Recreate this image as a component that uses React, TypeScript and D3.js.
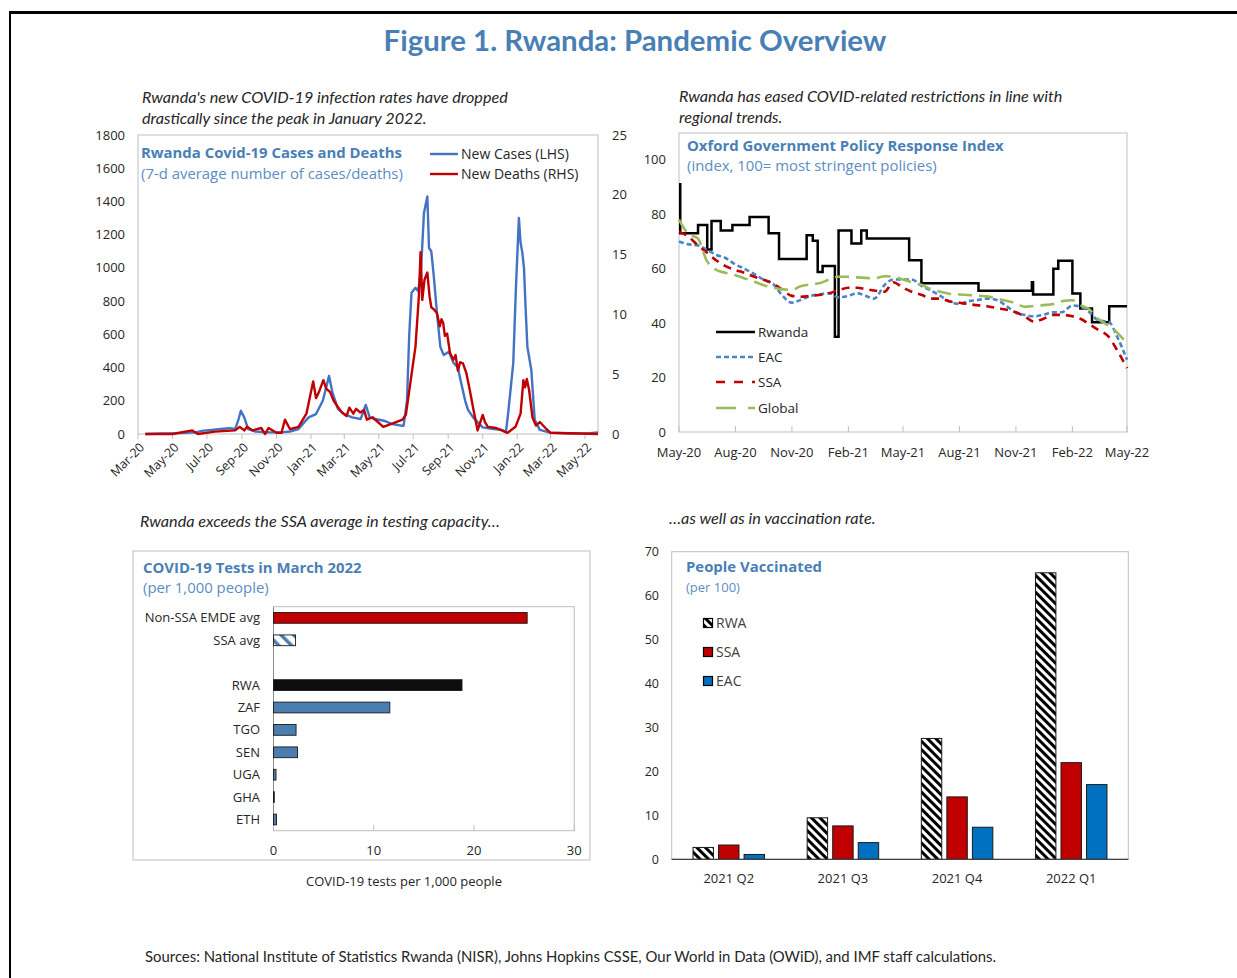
import React, { useRef, useEffect } from "react";
import * as d3 from "d3";

const W = 1237;
const H = 978;

const BLUE_TITLE = "#4a7fb5";
const BLUE_SUB = "#5b8ec4";
const TEXT = "#262626";
const AXIS_GRAY = "#bfbfbf";
const SANS = "'Open Sans', sans-serif";
const NARROW = "Lato, sans-serif";

// ---- panel 1: cases & deaths (7-d average)
const caseDates = [
  "2020-03-14", "2020-04-15", "2020-05-15", "2020-06-10", "2020-06-25", "2020-07-10",
  "2020-07-25", "2020-08-10", "2020-08-20", "2020-08-26", "2020-08-30", "2020-09-05",
  "2020-09-12", "2020-09-25", "2020-10-15", "2020-11-10", "2020-11-25", "2020-12-10",
  "2020-12-20", "2020-12-28", "2021-01-10", "2021-01-22", "2021-01-28", "2021-02-02",
  "2021-02-08", "2021-02-18", "2021-03-01", "2021-03-15", "2021-03-30", "2021-04-08",
  "2021-04-15", "2021-04-25", "2021-05-10", "2021-05-25", "2021-06-10", "2021-06-14",
  "2021-06-20", "2021-06-24", "2021-06-28", "2021-07-05", "2021-07-10", "2021-07-15",
  "2021-07-20", "2021-07-26", "2021-07-29", "2021-08-02", "2021-08-07", "2021-08-12",
  "2021-08-18", "2021-08-24", "2021-09-02", "2021-09-10", "2021-09-18", "2021-09-23",
  "2021-10-01", "2021-10-06", "2021-10-15", "2021-11-01", "2021-11-20", "2021-12-05",
  "2021-12-12", "2021-12-16", "2021-12-25", "2021-12-30", "2022-01-04", "2022-01-07",
  "2022-01-10", "2022-01-13", "2022-01-16", "2022-01-19", "2022-01-26", "2022-02-01",
  "2022-02-10", "2022-02-28", "2022-04-01", "2022-05-10", "2022-05-24",
];
const caseValues = [
  0, 3, 5, 10, 20, 25,
  30, 35, 30, 90, 140, 100,
  30, 15, 10, 10, 15, 30,
  70, 100, 120, 200, 280, 350,
  250, 150, 120, 100, 90, 175,
  100, 90, 80, 60, 50, 50,
  200, 600, 850, 880, 860, 1000,
  1330, 1430, 1120, 1100, 930, 730,
  525, 475, 495, 430, 400, 320,
  200, 145, 100, 40, 30, 25,
  10, 125, 425, 900, 1300, 1150,
  1095, 1000, 750, 525, 385, 85,
  25, 8, 3, 5, 10,
];

const deathDates = [
  "2020-03-14", "2020-05-01", "2020-06-05", "2020-06-15", "2020-07-15", "2020-08-20",
  "2020-08-28", "2020-09-05", "2020-09-10", "2020-09-20", "2020-10-05", "2020-10-12",
  "2020-10-18", "2020-11-01", "2020-11-10", "2020-11-16", "2020-11-25", "2020-12-10",
  "2020-12-24", "2021-01-05", "2021-01-10", "2021-01-16", "2021-01-23", "2021-01-28",
  "2021-02-04", "2021-02-10", "2021-02-17", "2021-02-25", "2021-03-05", "2021-03-10",
  "2021-03-17", "2021-03-22", "2021-03-29", "2021-04-05", "2021-04-10", "2021-04-20",
  "2021-05-09", "2021-05-27", "2021-06-12", "2021-06-18", "2021-06-29", "2021-07-05",
  "2021-07-11", "2021-07-14", "2021-07-17", "2021-07-21", "2021-07-26", "2021-07-30",
  "2021-08-02", "2021-08-07", "2021-08-12", "2021-08-17", "2021-08-20", "2021-08-23",
  "2021-08-26", "2021-08-30", "2021-09-04", "2021-09-10", "2021-09-14", "2021-09-18",
  "2021-09-22", "2021-09-27", "2021-10-03", "2021-10-09", "2021-10-17", "2021-10-23",
  "2021-11-01", "2021-11-05", "2021-11-10", "2021-11-25", "2021-12-15", "2021-12-29",
  "2022-01-07", "2022-01-12", "2022-01-15", "2022-01-18", "2022-01-22", "2022-01-28",
  "2022-02-03", "2022-02-10", "2022-02-20", "2022-03-01", "2022-05-24",
];
const deathValues = [
  0, 0, 0.3, 0, 0.2, 0.3,
  0.6, 0.3, 0.6, 0.3, 0.5, 0,
  0.5, 0.1, 0.1, 1.2, 0.4, 0.6,
  1.7, 4.4, 3.0, 3.6, 4.5, 3.8,
  3.5, 2.8, 2.3, 1.8, 1.5, 2.2,
  1.7, 2.1, 1.8, 2.0, 1.2, 1.4,
  0.6, 0.9, 1.2, 1.6, 5.3, 7.3,
  11.5, 15.2, 11.2, 12.9, 13.5, 11.5,
  10.6, 10.4, 10.1, 9.0, 9.6, 9.3,
  8.2, 8.4, 6.8, 6.2, 6.6, 5.3,
  6.0, 5.9, 5.1, 3.7, 1.7, 0.3,
  1.6, 1.0, 0.6, 0.5, 0.1, 0.6,
  1.7, 4.5, 3.9, 4.6, 3.7, 1.4,
  0.7, 1.0, 0.5, 0.1, 0,
];

const caseTicks = [
  "2020-03-01", "2020-05-01", "2020-07-01", "2020-09-01", "2020-11-01", "2021-01-01",
  "2021-03-01", "2021-05-01", "2021-07-01", "2021-09-01", "2021-11-01", "2022-01-01",
  "2022-03-01", "2022-05-01",
];

// ---- panel 2: stringency index
const rwandaDates = [
  "2020-05-01", "2020-05-03", "2020-06-01", "2020-06-16", "2020-06-23", "2020-07-08",
  "2020-07-27", "2020-08-24", "2020-09-24", "2020-10-11", "2020-11-25", "2020-12-05",
  "2020-12-13", "2020-12-21", "2021-01-10", "2021-01-16", "2021-02-06", "2021-02-22",
  "2021-03-03", "2021-05-11", "2021-05-31", "2021-09-01", "2021-11-27", "2021-11-29",
  "2022-01-01", "2022-01-09", "2022-02-01", "2022-02-14", "2022-03-05", "2022-04-02",
  "2022-05-01",
];
const rwandaIndex = [
  91, 73, 76, 67, 77.5, 74,
  76, 79, 73, 63.5, 72.3, 70.2,
  58.8, 61, 35, 74, 69.2, 74,
  71.1, 63.1, 54.6, 51.9, 55, 50.5,
  60, 62.9, 50.9, 45.4, 40.3, 46.2,
  46.2,
];

const regionDates = [
  "2020-05-01", "2020-05-15", "2020-06-01", "2020-06-15", "2020-07-01", "2020-07-15",
  "2020-08-01", "2020-08-15", "2020-09-01", "2020-09-15", "2020-10-01", "2020-10-15",
  "2020-11-01", "2020-11-15", "2020-12-01", "2020-12-15", "2021-01-01", "2021-01-15",
  "2021-02-01", "2021-02-15", "2021-03-01", "2021-03-15", "2021-04-01", "2021-04-15",
  "2021-05-01", "2021-05-15", "2021-06-01", "2021-06-15", "2021-07-01", "2021-07-15",
  "2021-08-01", "2021-08-15", "2021-09-01", "2021-09-15", "2021-10-01", "2021-10-15",
  "2021-11-01", "2021-11-15", "2021-12-01", "2021-12-15", "2022-01-01", "2022-01-15",
  "2022-02-01", "2022-02-15", "2022-03-01", "2022-03-15", "2022-04-01", "2022-04-15",
  "2022-05-01",
];
const eacIndex = [
  70, 69, 68.5, 67, 65, 64, 61.5, 60, 58, 56, 54.5, 50.5,
  47.5, 48.5, 50, 50.5, 51, 49.5, 50, 51, 50, 49, 54, 56,
  56, 56, 53.5, 52, 50, 48, 47, 48, 48.5, 49, 48.5, 46.5,
  43.8, 43, 42.5, 43, 44, 44, 46.5, 46, 44, 41, 40.5, 35,
  26.5,
];
const ssaIndex = [
  73.5, 72, 68.5, 66, 63, 61, 59.5, 58.5, 57, 56, 54.5, 52.5,
  50, 49.7, 50, 50.3, 51, 52, 53, 53, 52.5, 52, 51.5, 55,
  53, 51.5, 50.3, 49, 49, 48, 47.5, 47, 46.5, 46.2, 45.5, 45,
  44, 42.5, 40.5, 41.5, 43, 43, 42.5, 41.5, 39.5, 37.5, 35, 30,
  23.5,
];
const globalIndex = [
  78, 73, 71, 63, 59.5, 58.5, 57.6, 56.5, 55.2, 54, 53, 52.5,
  52.2, 53.5, 54.2, 54.6, 56, 57, 57, 56.8, 56.6, 56.4, 57.2, 57,
  56, 55, 54, 52.5, 51.5, 50.8, 50.5, 50.3, 50, 49.8, 49, 48.2,
  47.3, 46, 46.3, 46.6, 47, 48, 48.4, 46.5, 45, 41.5, 39, 36.5,
  32.5,
];
const stringencyTicks = [
  "2020-05-01", "2020-08-01", "2020-11-01", "2021-02-01", "2021-05-01",
  "2021-08-01", "2021-11-01", "2022-02-01", "2022-05-01",
];
const stringencyYTicks = [0, 20, 40, 60, 80, 100];

// ---- panel 3: tests
const testLabels = ["Non-SSA EMDE avg", "SSA avg", "", "RWA", "ZAF", "TGO", "SEN", "UGA", "GHA", "ETH"];
const testValues = [25.3, 2.2, null, 18.8, 11.6, 2.25, 2.4, 0.25, 0.05, 0.3];
const testTicks = [0, 10, 20, 30];

// ---- panel 4: vaccination
const quarters = ["2021 Q2", "2021 Q3", "2021 Q4", "2022 Q1"];
const vaxSeries = ["RWA", "SSA", "EAC"];
const vaxRWA = [2.7, 9.45, 27.5, 65.2];
const vaxSSA = [3.25, 7.6, 14.2, 22];
const vaxEAC = [1.1, 3.8, 7.3, 17];
const vaxTicks = [0, 10, 20, 30, 40, 50, 60, 70];

const parse = d3.timeParse("%Y-%m-%d");
const fmtMonth = d3.timeFormat("%b-%y");

function text(g, x, y, s, size, opts: any = {}) {
  return g
    .append("text")
    .attr("x", x)
    .attr("y", y)
    .attr("dy", "0.35em")
    .attr("font-family", opts.family || SANS)
    .attr("font-size", size)
    .attr("font-weight", opts.weight || "normal")
    .attr("font-style", opts.style || "normal")
    .attr("fill", opts.fill || TEXT)
    .attr("text-anchor", opts.anchor || "start")
    .text(s);
}

export default function App() {
  const ref = useRef<SVGSVGElement>(null);

  useEffect(() => {
    const svg = d3.select(ref.current);
    svg.selectAll("*").remove();
    const defs = svg.append("defs");

    defs
      .append("pattern")
      .attr("id", "ssaStripe")
      .attr("patternUnits", "userSpaceOnUse")
      .attr("width", 9)
      .attr("height", 9)
      .attr("patternTransform", "rotate(-45)")
      .call((p) => {
        p.append("rect").attr("width", 9).attr("height", 9).attr("fill", "#fff");
        p.append("rect").attr("width", 3.5).attr("height", 9).attr("fill", "#4a7eb0");
      });
    defs
      .append("pattern")
      .attr("id", "rwaStripe")
      .attr("patternUnits", "userSpaceOnUse")
      .attr("width", 6)
      .attr("height", 6)
      .attr("patternTransform", "rotate(-45)")
      .call((p) => {
        p.append("rect").attr("width", 6).attr("height", 6).attr("fill", "#fff");
        p.append("rect").attr("width", 3).attr("height", 6).attr("fill", "#000");
      });

    svg.append("rect").attr("width", W).attr("height", H).attr("fill", "#fff");

    // frame
    svg.append("line").attr("x1", 9).attr("x2", W).attr("y1", 12.5).attr("y2", 12.5)
      .attr("stroke", "#000").attr("stroke-width", 3);
    svg.append("line").attr("x1", 10).attr("x2", 10).attr("y1", 11).attr("y2", H)
      .attr("stroke", "#000").attr("stroke-width", 2);

    text(svg, 635, 41, "Figure 1. Rwanda: Pandemic Overview", 29.4, {
      family: NARROW, weight: "bold", fill: BLUE_TITLE, anchor: "middle",
    });

    const it = { family: NARROW, style: "italic" };
    text(svg, 142, 97, "Rwanda's new COVID-19 infection rates have dropped", 16.2, it);
    text(svg, 142, 118, "drastically since the peak in January 2022.", 16.2, it);
    text(svg, 679, 96, "Rwanda has eased COVID-related restrictions in line with", 16.2, it);
    text(svg, 679, 117, "regional trends.", 16.2, it);
    text(svg, 140, 521, "Rwanda exceeds the SSA average in testing capacity\u2026", 16.2, it);
    text(svg, 669, 518, "\u2026as well as in vaccination rate.", 16.2, it);
    text(svg, 145, 957, "Sources: National Institute of Statistics Rwanda (NISR), Johns Hopkins CSSE, Our World in Data (OWiD), and IMF staff calculations.", 14.9, { family: NARROW });

    // ---------------- panel 1
    {
      const g = svg.append("g");
      const x = d3.scaleTime().domain([parse("2020-03-01"), parse("2022-05-24")]).range([138, 598]);
      const yL = d3.scaleLinear().domain([0, 1800]).range([434, 135]);
      const yR = d3.scaleLinear().domain([0, 25]).range([434, 135]);

      g.append("rect").attr("x", 138).attr("y", 135).attr("width", 460).attr("height", 299)
        .attr("fill", "none").attr("stroke", AXIS_GRAY);

      yL.ticks(9).forEach((t) => text(g, 125, yL(t), t, 13, { anchor: "end" }));
      yR.ticks(5).forEach((t) => text(g, 612, yR(t), t, 13));

      caseTicks.forEach((s) => {
        const d = parse(s);
        g.append("line").attr("x1", x(d)).attr("x2", x(d)).attr("y1", 434).attr("y2", 439)
          .attr("stroke", AXIS_GRAY);
        g.append("text")
          .attr("transform", `translate(${x(d) + 4},${445}) rotate(-45)`)
          .attr("dy", "0.35em")
          .attr("text-anchor", "end")
          .attr("font-family", SANS)
          .attr("font-size", 12.5)
          .attr("fill", TEXT)
          .text(fmtMonth(d));
      });

      const caseLine = d3.line<number>()
        .x((d, i) => x(parse(caseDates[i])))
        .y((d) => yL(d));
      const deathLine = d3.line<number>()
        .x((d, i) => x(parse(deathDates[i])))
        .y((d) => yR(d));

      g.append("path").datum(caseValues).attr("d", caseLine).attr("fill", "none")
        .attr("stroke", "#4472c4").attr("stroke-width", 2.4).attr("stroke-linejoin", "round");
      g.append("path").datum(deathValues).attr("d", deathLine).attr("fill", "none")
        .attr("stroke", "#c00000").attr("stroke-width", 2.4).attr("stroke-linejoin", "round");

      text(g, 141, 153, "Rwanda Covid-19 Cases and Deaths", 14.9, { weight: "bold", fill: BLUE_TITLE });
      text(g, 141, 174, "(7-d average number of cases/deaths)", 14.9, { fill: BLUE_SUB });

      g.append("line").attr("x1", 430).attr("x2", 458).attr("y1", 154).attr("y2", 154)
        .attr("stroke", "#4472c4").attr("stroke-width", 2.4);
      g.append("line").attr("x1", 430).attr("x2", 458).attr("y1", 174).attr("y2", 174)
        .attr("stroke", "#c00000").attr("stroke-width", 2.4);
      text(g, 461, 154, "New Cases (LHS)", 14);
      text(g, 461, 174, "New Deaths (RHS)", 14);
    }

    // ---------------- panel 2
    {
      const g = svg.append("g");
      const x = d3.scaleTime().domain([parse("2020-05-01"), parse("2022-05-01")]).range([679, 1127]);
      const y = d3.scaleLinear().domain([0, 110]).range([432, 132.5]);

      g.append("rect").attr("x", 679).attr("y", 133).attr("width", 448).attr("height", 299)
        .attr("fill", "none").attr("stroke", AXIS_GRAY);

      stringencyYTicks.forEach((t) => text(g, 666, y(t), t, 13, { anchor: "end" }));
      stringencyTicks.forEach((s) => {
        const d = parse(s);
        g.append("line").attr("x1", x(d)).attr("x2", x(d)).attr("y1", 432).attr("y2", 426)
          .attr("stroke", AXIS_GRAY);
        text(g, x(d), 452, fmtMonth(d), 13, { anchor: "middle" });
      });

      const rwLine = d3.line<number>()
        .x((d, i) => x(parse(rwandaDates[i])))
        .y((d) => y(d))
        .curve(d3.curveStepAfter);
      const regLine = d3.line<number>()
        .x((d, i) => x(parse(regionDates[i])))
        .y((d) => y(d))
        .curve(d3.curveMonotoneX);

      g.append("path").datum(rwandaIndex).attr("d", rwLine).attr("fill", "none")
        .attr("stroke", "#000").attr("stroke-width", 2.5);
      const styles = [
        { data: eacIndex, color: "#4a86c6", dash: "5,3" },
        { data: ssaIndex, color: "#c00000", dash: "8,6" },
        { data: globalIndex, color: "#9bbb59", dash: "14,7" },
      ];
      styles.forEach((s) => {
        g.append("path").datum(s.data).attr("d", regLine).attr("fill", "none")
          .attr("stroke", s.color).attr("stroke-width", 2.6).attr("stroke-dasharray", s.dash);
      });

      const legend = [
        { name: "Rwanda", color: "#000", dash: null, y: 332 },
        { name: "EAC", color: "#4a86c6", dash: "5,3", y: 357 },
        { name: "SSA", color: "#c00000", dash: "9,9", y: 382 },
        { name: "Global", color: "#9bbb59", dash: "20,12", y: 408 },
      ];
      legend.forEach((l) => {
        g.append("line").attr("x1", 716).attr("x2", 755).attr("y1", l.y).attr("y2", l.y)
          .attr("stroke", l.color).attr("stroke-width", 2.5)
          .attr("stroke-dasharray", l.dash);
        text(g, 758, l.y, l.name, 13.5);
      });

      text(g, 687, 146, "Oxford Government Policy Response Index", 14.9, { weight: "bold", fill: BLUE_TITLE });
      text(g, 687, 166, "(index, 100= most stringent policies)", 14.9, { fill: BLUE_SUB });
    }

    // ---------------- panel 3
    {
      const g = svg.append("g");
      g.append("rect").attr("x", 133).attr("y", 551).attr("width", 457).attr("height", 309)
        .attr("fill", "none").attr("stroke", AXIS_GRAY);
      text(g, 143, 568, "COVID-19 Tests in March 2022", 14.9, { weight: "bold", fill: BLUE_TITLE });
      text(g, 143, 588, "(per 1,000 people)", 14.9, { fill: BLUE_SUB });

      const x = d3.scaleLinear().domain([0, 30]).range([273.5, 574.3]);
      const y = d3.scaleBand().domain(testLabels).range([606.7, 830.7]).paddingInner(0.52).paddingOuter(0.26);

      g.append("rect").attr("x", 273.5).attr("y", 606.7).attr("width", 300.8).attr("height", 224)
        .attr("fill", "none").attr("stroke", AXIS_GRAY);
      g.append("line").attr("x1", 273.5).attr("x2", 273.5).attr("y1", 606.7).attr("y2", 830.7)
        .attr("stroke", "#8c8c8c");

      testTicks.forEach((t) => {
        g.append("line").attr("x1", x(t)).attr("x2", x(t)).attr("y1", 830.7).attr("y2", 825)
          .attr("stroke", AXIS_GRAY);
        text(g, x(t), 850, t, 13, { anchor: "middle" });
      });

      const fillFor = (label) =>
        label === "Non-SSA EMDE avg" ? "#c00000" :
        label === "SSA avg" ? "url(#ssaStripe)" :
        label === "RWA" ? "#0d0d0d" : "#4a7eb0";

      testLabels.forEach((label, i) => {
        const v = testValues[i];
        if (label !== "") text(g, 260, y(label) + y.bandwidth() / 2, label, 13, { anchor: "end" });
        if (v == null) return;
        g.append("rect")
          .attr("x", x(0))
          .attr("y", y(label))
          .attr("width", Math.max(x(v) - x(0), 0.8))
          .attr("height", y.bandwidth())
          .attr("fill", fillFor(label))
          .attr("stroke", "#1a1a1a")
          .attr("stroke-width", 0.9);
      });

      text(g, 404, 881, "COVID-19 tests per 1,000 people", 13, { anchor: "middle" });
    }

    // ---------------- panel 4
    {
      const g = svg.append("g");
      const x = d3.scaleBand().domain(quarters).range([671.7, 1128.3]);
      const xs = d3.scaleBand().domain(vaxSeries).range([0, 71.5]).paddingInner(0.2);
      const y = d3.scaleLinear().domain([0, 70]).range([859.3, 551.7]);

      g.append("rect").attr("x", 671.7).attr("y", 551.7).attr("width", 456.6).attr("height", 307.6)
        .attr("fill", "none").attr("stroke", AXIS_GRAY);

      vaxTicks.forEach((t) => text(g, 659, y(t), t, 12.5, { anchor: "end" }));

      const series = [
        { key: "RWA", values: vaxRWA, fill: "url(#rwaStripe)" },
        { key: "SSA", values: vaxSSA, fill: "#c00000" },
        { key: "EAC", values: vaxEAC, fill: "#0070c0" },
      ];
      quarters.forEach((q, i) => {
        const start = x(q) + x.bandwidth() / 2 - 35.75;
        series.forEach((s) => {
          g.append("rect")
            .attr("x", start + xs(s.key))
            .attr("y", y(s.values[i]))
            .attr("width", xs.bandwidth())
            .attr("height", y(0) - y(s.values[i]))
            .attr("fill", s.fill)
            .attr("stroke", "#1a1a1a")
            .attr("stroke-width", 1);
        });
        text(g, x(q) + x.bandwidth() / 2, 878, q, 13, { anchor: "middle" });
      });

      g.append("line").attr("x1", 671.7).attr("x2", 1128.3).attr("y1", 859.3).attr("y2", 859.3)
        .attr("stroke", "#404040").attr("stroke-width", 1.2);

      text(g, 686, 567, "People Vaccinated", 14.9, { weight: "bold", fill: BLUE_TITLE });
      text(g, 686, 587, "(per 100)", 13, { fill: BLUE_SUB });

      const legendY = [623, 652, 681];
      series.forEach((s, i) => {
        g.append("rect").attr("x", 703.5).attr("y", legendY[i] - 4.5).attr("width", 9).attr("height", 9)
          .attr("fill", s.fill).attr("stroke", "#000").attr("stroke-width", 1.2);
        text(g, 716, legendY[i], s.key, 14, { fill: "#404040" });
      });
    }
  }, []);

  return (
    <svg
      ref={ref}
      width={W}
      height={H}
      style={{ position: "absolute", left: 0, top: 0, display: "block" }}
    />
  );
}
